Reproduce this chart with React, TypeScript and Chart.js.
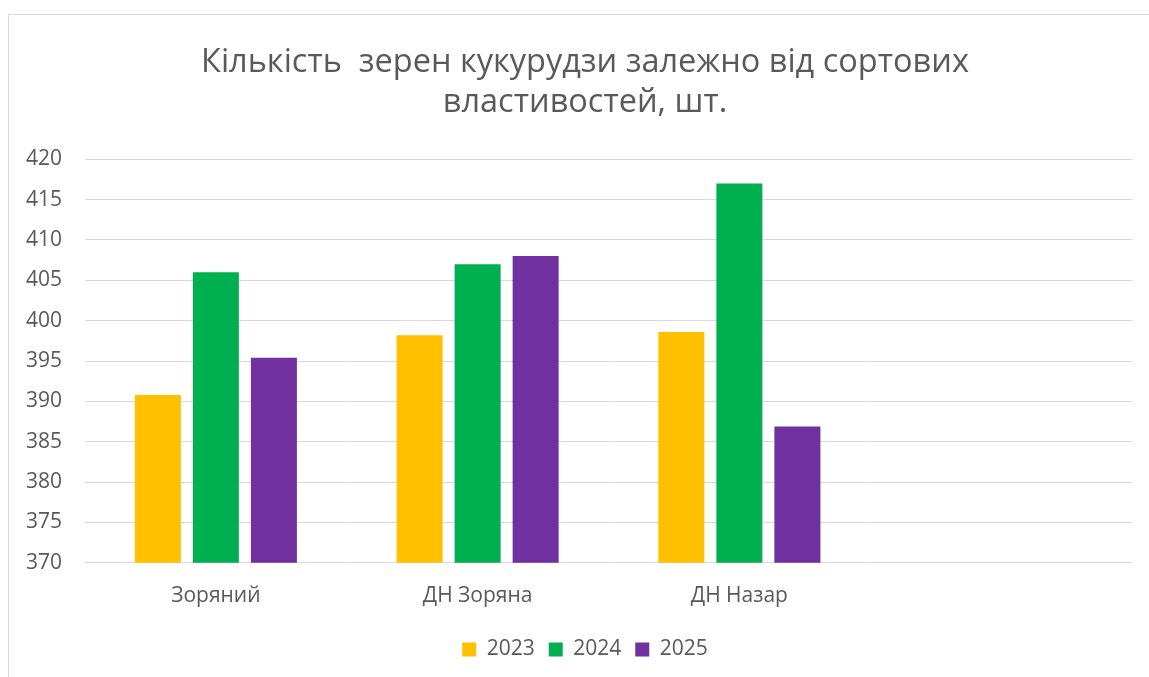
import React, { useEffect, useRef } from "react";
import { Chart, registerables } from "chart.js";

Chart.register(...registerables);

const categories = ["Зоряний", "ДН Зоряна", "ДН Назар", ""];
const series2023 = [390.8, 398.2, 398.6, null];
const series2024 = [406.0, 407.0, 417.0, null];
const series2025 = [395.4, 408.0, 386.9, null];
const seriesNames = ["2023", "2024", "2025"];
const seriesColors = ["#FFC000", "#00B050", "#7030A0"];
const titleLines = ["Кількість  зерен кукурудзи залежно від сортових", "властивостей, шт."];
const yMin = 370;
const yMax = 420;
const yStep = 5;

const FONT = "'Open Sans', 'Noto Sans', sans-serif";
const TEXT = "#595959";
const GRID = "#d9d9d9";

export default function App() {
  const ref = useRef<HTMLCanvasElement | null>(null);

  useEffect(() => {
    if (!ref.current) return;
    const values = [series2023, series2024, series2025];
    const chart = new Chart(ref.current, {
      type: "bar",
      data: {
        labels: categories,
        datasets: seriesNames.map((name, i) => ({
          label: name,
          data: values[i],
          backgroundColor: seriesColors[i],
          borderWidth: 0,
          categoryPercentage: 0.665,
          barPercentage: 0.793,
          yAxisID: "y",
        })),
      },
      options: {
        animation: false,
        responsive: false,
        maintainAspectRatio: false,
        layout: { padding: { left: 0, right: 0, top: 0, bottom: 7 } },
        plugins: {
          title: {
            display: true,
            text: titleLines,
            color: TEXT,
            font: { family: FONT, size: 32.5, weight: "normal", lineHeight: 1.25 },
            padding: { top: 27, bottom: 36 },
          },
          legend: {
            position: "bottom",
            labels: {
              boxWidth: 14,
              boxHeight: 14,
              padding: 14,
              color: TEXT,
              font: { family: FONT, size: 21 },
            },
          },
          tooltip: { enabled: false },
        },
        scales: {
          x: {
            grid: { display: false, drawTicks: false },
            border: { display: false },
            ticks: { color: TEXT, font: { family: FONT, size: 21 }, padding: 21, maxRotation: 0 },
            afterFit: (scale: any) => {
              scale.height -= 5;
            },
          },
          y: {
            position: "left",
            min: yMin,
            max: yMax,
            grid: { color: GRID, lineWidth: 1, drawTicks: false },
            border: { display: false },
            ticks: {
              stepSize: yStep,
              color: TEXT,
              font: { family: FONT, size: 21 },
              padding: 23,
            },
            afterFit: (scale: any) => {
              scale.width = 76;
            },
          },
          yRight: {
            position: "right",
            display: true,
            grid: { display: false, drawTicks: false },
            border: { display: false },
            ticks: { display: false },
            afterFit: (scale: any) => {
              scale.width = 29;
            },
          },
        },
      },
    });
    return () => chart.destroy();
  }, []);

  return (
    <div
      style={{
        position: "fixed",
        left: 8,
        top: 14,
        width: 1141,
        height: 663,
        overflow: "hidden",
        borderTop: `1px solid ${GRID}`,
        borderLeft: `1px solid ${GRID}`,
        boxSizing: "border-box",
        background: "#fff",
      }}
    >
      <canvas ref={ref} width={1152} height={662} style={{ display: "block", width: 1152, height: 662 }} />
    </div>
  );
}
